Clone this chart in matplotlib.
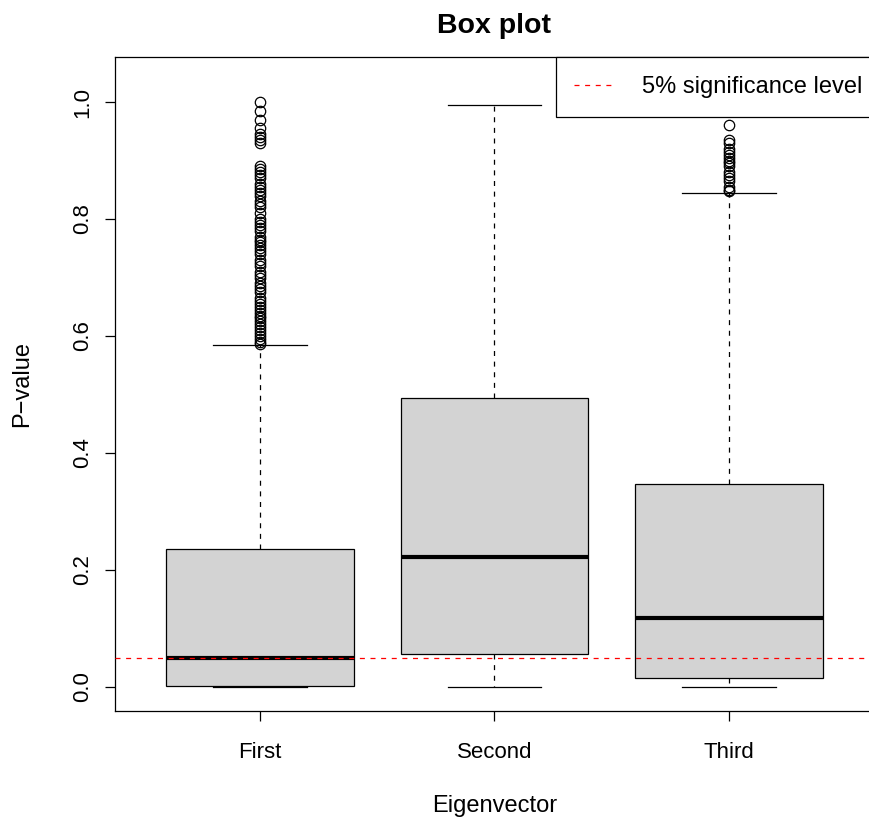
import matplotlib.pyplot as plt
import numpy as np

plt.rcParams['font.family'] = ['Liberation Sans', 'DejaVu Sans']

# Eigenvector p-value summaries (min, q1, median, q3, upper whisker)
groups = ['First', 'Second', 'Third']
whisker_low = [0.0, 0.0, 0.0]
q1 = [0.002, 0.056, 0.015]
medians = [0.049, 0.222, 0.118]
q3 = [0.236, 0.494, 0.347]
whisker_high = [0.585, 0.995, 0.844]

outliers_first = [1.0, 0.985, 0.97, 0.955, 0.945, 0.94, 0.935, 0.93,
                  0.89, 0.885, 0.88, 0.875, 0.87, 0.86, 0.855, 0.85, 0.845,
                  0.84, 0.83, 0.825, 0.82, 0.81, 0.80, 0.795, 0.79, 0.785,
                  0.78, 0.77, 0.765, 0.76, 0.755, 0.75, 0.745, 0.74, 0.73,
                  0.725, 0.72, 0.71, 0.705, 0.70, 0.69, 0.685, 0.68, 0.675,
                  0.665, 0.66, 0.655, 0.65, 0.645, 0.64, 0.635, 0.63, 0.625,
                  0.62, 0.615, 0.61, 0.605, 0.60, 0.595, 0.59, 0.587]
outliers_second = []
outliers_third = [0.96, 0.935, 0.93, 0.92, 0.915, 0.91, 0.905, 0.90, 0.895,
                  0.89, 0.88, 0.875, 0.87, 0.865, 0.855, 0.85, 0.848]
outliers = [outliers_first, outliers_second, outliers_third]

sig_level = 0.05

stats = []
for i, name in enumerate(groups):
    stats.append({'label': name, 'whislo': whisker_low[i], 'q1': q1[i],
                  'med': medians[i], 'q3': q3[i], 'whishi': whisker_high[i],
                  'fliers': outliers[i]})

dashed = (0, (4, 4.5))

fig = plt.figure(figsize=(8.7, 8.22), dpi=100)
ax = fig.add_axes([115 / 870, 1 - 711 / 822, 759 / 870, 654 / 822])

ax.bxp(stats, positions=[1, 2, 3], widths=0.8, patch_artist=True,
       boxprops=dict(facecolor='#d3d3d3', edgecolor='black', linewidth=0.9),
       medianprops=dict(color='black', linewidth=3),
       whiskerprops=dict(color='black', linewidth=0.9, linestyle=dashed),
       capprops=dict(color='black', linewidth=0.9),
       capwidths=0.4,
       flierprops=dict(marker='o', markerfacecolor='none', markeredgecolor='black',
                       markersize=7.5, markeredgewidth=0.9, linestyle='none'))

ax.axhline(sig_level, color='#ff0000', linewidth=0.9, linestyle=dashed,
           label='5% significance level', zorder=5)

ax.set_xlim(0.382, 3.618)
ax.set_ylim(-0.041, 1.077)
ax.set_yticks(np.arange(0, 1.01, 0.2))
ax.set_yticklabels(['0.0', '0.2', '0.4', '0.6', '0.8', '1.0'], rotation=90, va='center')
ax.set_xticks([1, 2, 3])
ax.set_xticklabels(groups)
ax.tick_params(labelsize=16, length=7, width=0.9)
ax.tick_params(axis='x', pad=15)
ax.tick_params(axis='y', pad=9)
for s in ax.spines.values():
    s.set_linewidth(0.9)

ax.set_title('Box plot', fontsize=20.5, fontweight='bold', pad=17)
ax.set_xlabel('Eigenvector', fontsize=17, labelpad=23)
ax.set_ylabel('P\u2212value', fontsize=17, labelpad=28)

# legend frame runs past the right edge, like the plot box
leg = ax.legend(loc='upper right', bbox_to_anchor=(1 + 7 / 759, 1),
                borderaxespad=0, fancybox=False,
                edgecolor='black', framealpha=1, fontsize=17,
                handlelength=1.7, handletextpad=1.15, borderpad=0.8)
leg.get_frame().set_linewidth(0.9)

fig.savefig('out.png', dpi=100)
